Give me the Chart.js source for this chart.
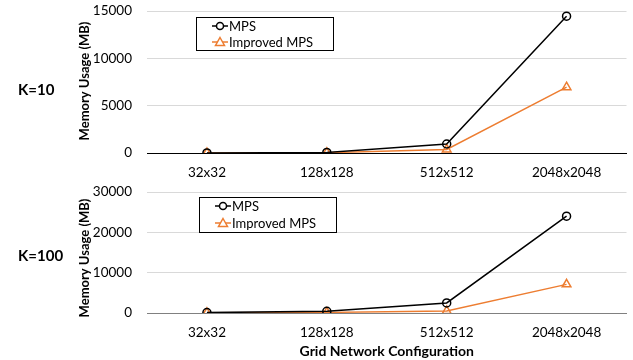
<!DOCTYPE html>
<html>
<head>
<meta charset="utf-8">
<script src="https://cdn.jsdelivr.net/npm/chart.js@4"></script>
<style>
  body { margin: 0; background: #fff; }
  .wrap { position: relative; width: 633px; height: 360px; }
  .wrap div { position: absolute; left: 0; width: 633px; height: 180px; }
</style>
</head>
<body>
<div class="wrap">
  <div style="top:0"><canvas id="chartK10"></canvas></div>
  <div style="top:180px"><canvas id="chartK100"></canvas></div>
</div>
<script>
// Dados de uso de memória (MB) por configuração de grade
const categorias = ['32x32', '128x128', '512x512', '2048x2048'];
const mpsK10 = [5, 60, 950, 14450];
const improvedK10 = [3, 30, 380, 6950];
const mpsK100 = [100, 420, 2500, 24000];
const improvedK100 = [50, 150, 500, 7100];
const ticksK10 = [0, 5000, 10000, 15000];
const ticksK100 = [0, 10000, 20000, 30000];

const FONTE = 'Lato, "Open Sans", sans-serif';
const LARANJA = '#ED7D31';

// Legenda com moldura, título do eixo Y e rótulo lateral (K=...) desenhados à mão
const extras = {
  id: 'extras',
  afterDraw(chart, args, opts) {
    const ctx = chart.ctx;
    ctx.save();
    // rótulo K
    ctx.fillStyle = '#000';
    ctx.font = 'bold 15px ' + FONTE;
    ctx.textBaseline = 'middle';
    ctx.textAlign = 'left';
    ctx.fillText(opts.label, 18, opts.labelY);

    // título do eixo Y
    ctx.save();
    ctx.translate(85, opts.titleY);
    ctx.rotate(-Math.PI / 2);
    ctx.textAlign = 'center';
    ctx.font = 'bold 13px ' + FONTE;
    ctx.fillText('Memory Usage (MB)', 0, 0);
    ctx.restore();

    // caixa da legenda
    const b = opts.box;
    ctx.strokeStyle = '#000';
    ctx.lineWidth = 1;
    ctx.fillStyle = '#fff';
    ctx.fillRect(b.x, b.y, b.w, b.h);
    ctx.strokeRect(b.x + 0.5, b.y + 0.5, b.w, b.h);

    ctx.font = '13px ' + FONTE;
    chart.data.datasets.forEach((ds, i) => {
      const y = b.y + b.rows[i];
      const x0 = b.x + 16;
      ctx.strokeStyle = ds.borderColor;
      ctx.lineWidth = 1.5;
      ctx.beginPath();
      ctx.moveTo(x0, y);
      ctx.lineTo(x0 + 16, y);
      ctx.stroke();
      const cx = x0 + 8;
      ctx.fillStyle = '#fff';
      ctx.beginPath();
      if (ds.pointStyle === 'triangle') {
        ctx.moveTo(cx, y - 4.5);
        ctx.lineTo(cx + 4.5, y + 3.5);
        ctx.lineTo(cx - 4.5, y + 3.5);
        ctx.closePath();
      } else {
        ctx.arc(cx, y, 3.5, 0, Math.PI * 2);
      }
      ctx.fill();
      ctx.stroke();
      ctx.fillStyle = '#000';
      ctx.fillText(ds.label, x0 + 17, y + 1);
    });
    ctx.restore();
  }
};

function montar(id, mps, improved, ticks, extrasOpts, comTituloX) {
  const maxY = ticks[ticks.length - 1];
  return new Chart(document.getElementById(id), {
    type: 'line',
    data: {
      labels: categorias,
      datasets: [
        {
          label: 'MPS',
          data: mps,
          borderColor: '#000',
          borderWidth: 1.5,
          pointStyle: 'circle',
          pointRadius: 4,
          pointBorderWidth: 1.5,
          pointBackgroundColor: 'rgba(255,255,255,0)',
          pointBorderColor: '#000',
          tension: 0
        },
        {
          label: 'Improved MPS',
          data: improved,
          borderColor: LARANJA,
          borderWidth: 1.5,
          pointStyle: 'triangle',
          pointRadius: 5,
          pointBorderWidth: 1.5,
          pointBackgroundColor: 'rgba(255,255,255,0)',
          pointBorderColor: LARANJA,
          tension: 0
        }
      ]
    },
    options: {
      responsive: true,
      maintainAspectRatio: false,
      animation: false,
      layout: { padding: { left: 75, right: 5, top: extrasOpts.top, bottom: 0 } },
      plugins: {
        legend: { display: false },
        tooltip: { enabled: false },
        extras: extrasOpts
      },
      scales: {
        x: {
          offset: true,
          grid: { display: false, drawTicks: false },
          border: { display: true, color: extrasOpts.axisColor, width: 1 },
          ticks: { color: '#000', font: { family: FONTE, size: 13.5 }, padding: 12 },
          title: {
            display: comTituloX,
            text: 'Grid Network Configuration',
            color: '#000',
            font: { family: FONTE, size: 14, weight: 'bold' },
            padding: { top: 4, bottom: 0 }
          },
          afterFit: s => { s.height = comTituloX ? 47 : 27; }
        },
        y: {
          min: 0,
          max: maxY,
          afterBuildTicks: s => { s.ticks = ticks.map(v => ({ value: v })); },
          grid: { color: '#d9d9d9', drawTicks: false, lineWidth: 1 },
          border: { display: false },
          ticks: {
            color: '#000',
            font: { family: FONTE, size: 13.5 },
            padding: 15,
            callback: v => String(v)
          },
          // largura fixa e sem folga extra em cima/embaixo
          afterFit: s => {
            s.width = 72;
            s.paddingTop = 0;
            s.paddingBottom = 0;
          }
        }
      }
    },
    plugins: [extras]
  });
}

montar('chartK10', mpsK10, improvedK10, ticksK10, {
  top: 11, label: 'K=10', labelY: 90, titleY: 81, axisColor: '#000',
  box: { x: 196, y: 17, w: 137, h: 33, rows: [9, 25] }
}, false);

montar('chartK100', mpsK100, improvedK100, ticksK100, {
  top: 12, label: 'K=100', labelY: 76, titleY: 78, axisColor: '#808080',
  box: { x: 199, y: 17, w: 137, h: 35, rows: [9, 26] }
}, true);
</script>
</body>
</html>
